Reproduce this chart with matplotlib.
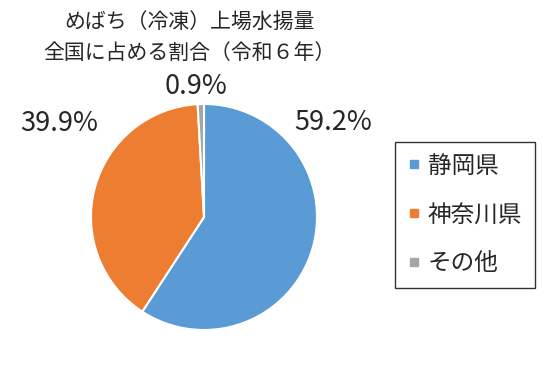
import matplotlib
matplotlib.use("Agg")
import matplotlib.pyplot as plt
from matplotlib.lines import Line2D

plt.rcParams['font.family'] = ['Noto Sans CJK JP', 'DejaVu Sans']

title_lines = ["めばち（冷凍）上場水揚量", "全国に占める割合（令和６年）"]
labels = ["静岡県", "神奈川県", "その他"]
shares = [59.2, 39.9, 0.9]
colors = ["#5B9BD5", "#ED7D31", "#A5A5A5"]

W, H = 558, 390
fig = plt.figure(figsize=(W / 100, H / 100), dpi=100)
ax = fig.add_axes([0, 0, 1, 1])

cx, cy, r = 204, H - 217, 113
ax.pie(shares, colors=colors, startangle=90, counterclock=False,
       center=(cx, cy), radius=r, frame=True,
       wedgeprops=dict(edgecolor="white", linewidth=1.5))
ax.set_xlim(0, W)
ax.set_ylim(0, H)
ax.set_aspect("equal")
ax.axis("off")

# percentage labels (baseline positions as in the original "best fit" layout)
label_pos = [(333, 130), (59, 131), (196, 94)]
for v, (x, y) in zip(shares, label_pos):
    ax.text(x, H - y, f"{v:.1f}%", ha="center", va="baseline", fontsize=19.5, color="#262626")

for line, y in zip(title_lines, [22, 53]):
    ax.text(189, H - y, line, ha="center", va="center", fontsize=15, color="#262626")

handles = [Line2D([], [], marker="s", ls="", color=c, markersize=6) for c in colors]
leg = fig.legend(handles, labels, loc="upper left", bbox_to_anchor=(395 / W, 1 - 142 / H),
                 fontsize=17, frameon=True, fancybox=False, edgecolor="black",
                 handlelength=0.55, handletextpad=0.3, labelspacing=1.1,
                 borderpad=0.53, borderaxespad=0)
leg.get_frame().set_linewidth(1.0)
for t in leg.get_texts():
    t.set_color("#262626")

fig.savefig("out.png", dpi=100)
